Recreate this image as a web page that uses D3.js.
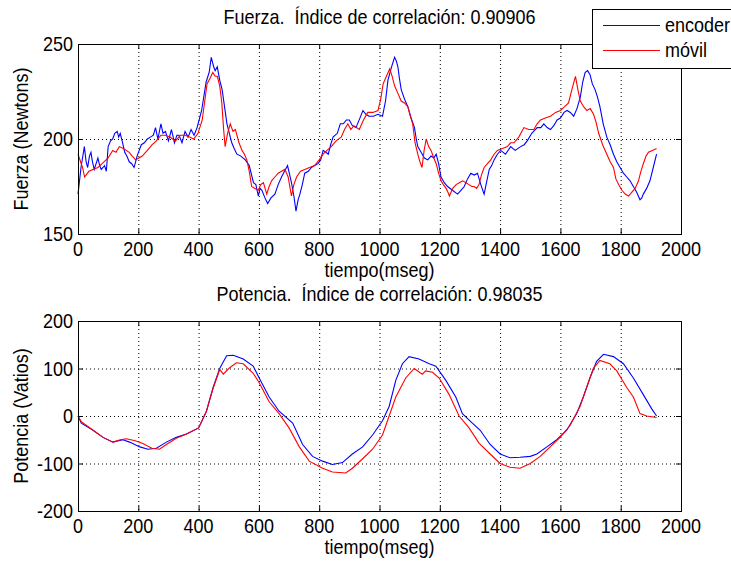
<!DOCTYPE html>
<html lang="es">
<head>
<meta charset="UTF-8">
<title>Fuerza y Potencia</title>
<script src="https://cdn.jsdelivr.net/npm/d3@7"></script>
<style>
  body { margin: 0; background: #fff; }
  text { font-family: "Liberation Sans", Arial, sans-serif; fill: #000; white-space: pre; }
</style>
</head>
<body>
<script>
// fuerza (N) - encoder
var tFuerzaEnc = [0,10,21,27,32,38,43,48,54,60,66,72,77,83,88,94,100,108,115,122,130,135,140,148,155,162,170,178,186,191,196,203,210,220,230,240,250,257,265,275,282,290,300,310,320,328,335,345,355,365,375,385,395,410,425,435,442,450,455,462,470,478,486,494,502,510,518,527,540,555,568,582,590,598,604,610,620,629,640,653,664,675,685,695,708,716,723,730,736,744,752,764,774,785,796,805,813,822,830,838,846,860,870,880,890,900,910,922,935,945,955,965,980,995,1010,1020,1028,1040,1050,1056,1061,1066,1072,1083,1094,1105,1116,1122,1127,1138,1149,1160,1171,1180,1188,1196,1204,1215,1226,1242,1259,1270,1281,1292,1303,1314,1325,1336,1347,1356,1364,1372,1380,1391,1402,1418,1435,1450,1468,1480,1490,1505,1523,1535,1545,1556,1567,1578,1589,1600,1612,1622,1633,1644,1655,1666,1674,1682,1690,1698,1706,1715,1723,1731,1742,1754,1765,1776,1787,1798,1809,1820,1831,1842,1853,1864,1870,1875,1886,1897,1908,1919];
var fuerzaEnc = [171,185,196,188,185,191,193,188,184,187,190,186,184,185,186,183,196,199,200,203,204,201,203,198,193,191,188,187,185,188,191,194,197,198,200,201,202,206,200,208,203,204,199,205,198,202,202,198,204,201,205,202,206,215,230,235,243,238,236,238,231,226,217,208,203,198,195,192,191,189,186,177,176,170,174,173,169,166,169,171,176,180,183,186,177,170,162,168,171,176,182,183,185,186,187,189,194,193,192,197,201,203,208,208,210,210,207,206,211,215,213,212,212,213,212,220,231,238,243,241,238,232,226,221,217,211,206,200,196,193,190,189,191,190,192,187,180,177,175,173,171,173,175,179,182,181,182,176,171,178,184,186,189,192,194,192,196,194,196,197,199,203,206,206,208,206,205,207,210,211,214,215,214,212,216,222,230,235,236,234,229,226,222,217,208,201,197,192,188,185,182,180,178,175,172,168,169,171,174,178,185,192];
// fuerza (N) - movil
var tFuerzaMov = [0,15,22,36,50,66,80,100,115,126,137,150,170,180,191,202,213,230,246,260,275,290,305,323,340,356,370,384,398,412,428,438,447,455,462,470,477,483,488,496,505,514,522,534,544,552,560,568,576,587,598,606,615,626,634,642,653,664,675,686,697,708,716,725,738,752,768,785,800,813,826,840,856,873,884,895,905,915,933,947,961,978,995,1004,1012,1023,1034,1042,1050,1061,1072,1083,1094,1102,1110,1118,1127,1134,1141,1148,1155,1163,1171,1180,1188,1196,1204,1212,1221,1227,1232,1243,1254,1265,1276,1287,1297,1306,1314,1322,1330,1338,1347,1358,1369,1380,1391,1408,1424,1435,1446,1462,1479,1495,1512,1523,1534,1550,1567,1584,1600,1614,1627,1638,1650,1658,1666,1677,1688,1699,1710,1718,1727,1740,1754,1765,1776,1784,1793,1804,1815,1826,1837,1848,1859,1867,1875,1884,1892,1905,1919];
var fuerzaMov = [192,185,180,183,184,185,187,190,194,193,196,195,193,191,189,190,191,194,197,199,202,202,201,199,202,202,201,200,203,210,229,232,235,233,233,228,219,205,196,203,208,204,205,198,194,192,189,183,175,174,173,176,177,171,175,178,180,182,183,184,180,170,176,180,183,184,185,186,189,192,194,196,199,201,205,208,205,207,205,210,214,214,215,221,229,233,237,233,228,224,220,219,217,212,208,198,192,188,185,194,200,196,194,190,187,182,178,176,174,172,170,174,176,177,178,177,176,175,175,174,176,181,185,187,189,192,194,195,196,198,198,201,206,205,205,208,210,211,212,214,215,217,219,226,233,226,220,217,215,216,213,209,203,197,192,188,185,179,176,173,171,170,172,174,178,183,187,191,193,194,195];

// potencia (W) - encoder
var tPotEnc = [0,11,50,83,116,149,171,205,232,260,293,326,360,400,426,448,470,493,515,548,581,601,634,667,712,745,778,811,844,877,910,944,977,1010,1032,1054,1076,1098,1131,1165,1187,1220,1253,1275,1308,1334,1367,1400,1433,1466,1500,1522,1555,1588,1621,1654,1676,1698,1720,1743,1776,1809,1842,1875,1903,1919];
var potEnc = [0,-15,-30,-45,-55,-50,-55,-65,-70,-68,-55,-45,-38,-25,10,60,100,127,128,120,105,80,40,10,-15,-60,-85,-95,-102,-98,-80,-65,-40,-10,20,75,110,125,120,110,105,75,40,5,-15,-30,-60,-80,-88,-87,-85,-80,-65,-50,-30,5,40,80,115,130,125,110,80,45,15,0];
// potencia (W) - movil
var tPotMov = [0,11,50,83,116,140,160,190,215,245,270,293,326,360,400,426,448,470,482,500,525,548,581,601,634,667,700,734,767,811,844,888,910,944,977,1010,1032,1054,1087,1115,1142,1153,1176,1198,1231,1264,1297,1330,1367,1400,1433,1466,1500,1533,1566,1599,1632,1665,1687,1709,1731,1764,1787,1820,1842,1864,1886,1919];
var potMov = [0,-12,-30,-45,-55,-50,-48,-52,-58,-68,-70,-60,-47,-38,-25,10,58,98,88,100,112,110,90,70,30,5,-25,-65,-95,-110,-118,-120,-110,-90,-70,-40,0,40,80,100,88,95,92,80,45,0,-25,-57,-80,-100,-108,-110,-100,-85,-65,-45,-20,20,60,100,117,110,95,60,40,5,0,-3];

var xTicks = [0,200,400,600,800,1000,1200,1400,1600,1800,2000];
var yTicksFuerza = [150,200,250];
var yTicksPot = [-200,-100,0,100,200];

var W = 731, H = 562;
var left = 78, right = 681;
var fs = 20, sx = 0.9;

var svg = d3.select("body").append("svg")
    .attr("width", W)
    .attr("height", H);

var x = d3.scaleLinear().domain([0,2000]).range([left,right]);

// texto estrecho (como la fuente de matlab)
function txt(g, px, py, s, anchor, rot) {
    return g.append("text")
        .attr("transform", "translate(" + px + "," + py + ")" + (rot ? " rotate(-90)" : "") + " scale(" + sx + ",1)")
        .attr("text-anchor", anchor || "start")
        .attr("font-size", fs)
        .text(s);
}

function panel(top, bottom, yDomain, yTicks, title, ylabel, series) {
    var y = d3.scaleLinear().domain(yDomain).range([bottom, top]);
    var g = svg.append("g");

    // grid
    g.selectAll(".gx").data(xTicks.slice(1,-1)).enter().append("line")
        .attr("x1", d => x(d) + 0.5).attr("x2", d => x(d) + 0.5)
        .attr("y1", top).attr("y2", bottom)
        .attr("stroke", "#000").attr("stroke-dasharray", "1,3");
    g.selectAll(".gy").data(yTicks.slice(1,-1)).enter().append("line")
        .attr("x1", left).attr("x2", right)
        .attr("y1", d => y(d) + 0.5).attr("y2", d => y(d) + 0.5)
        .attr("stroke", "#000").attr("stroke-dasharray", "1,3");

    // lines
    var line = d3.line().x(d => x(d[0])).y(d => y(d[1]));
    series.forEach(function(s) {
        g.append("path")
            .datum(d3.zip(s.t, s.v))
            .attr("d", line)
            .attr("fill", "none")
            .attr("stroke", s.color)
            .attr("stroke-width", 1.1);
    });

    // box + inner ticks
    g.append("rect").attr("x", left + 0.5).attr("y", top + 0.5)
        .attr("width", right - left).attr("height", bottom - top)
        .attr("fill", "none").attr("stroke", "#000");
    var tl = 5;
    g.selectAll(".tb").data(xTicks).enter().append("line")
        .attr("x1", d => x(d) + 0.5).attr("x2", d => x(d) + 0.5)
        .attr("y1", bottom).attr("y2", bottom - tl).attr("stroke", "#000");
    g.selectAll(".tt").data(xTicks).enter().append("line")
        .attr("x1", d => x(d) + 0.5).attr("x2", d => x(d) + 0.5)
        .attr("y1", top).attr("y2", top + tl).attr("stroke", "#000");
    g.selectAll(".tl").data(yTicks).enter().append("line")
        .attr("x1", left).attr("x2", left + tl)
        .attr("y1", d => y(d) + 0.5).attr("y2", d => y(d) + 0.5).attr("stroke", "#000");
    g.selectAll(".tr").data(yTicks).enter().append("line")
        .attr("x1", right).attr("x2", right - tl)
        .attr("y1", d => y(d) + 0.5).attr("y2", d => y(d) + 0.5).attr("stroke", "#000");

    // tick labels
    xTicks.forEach(d => txt(g, x(d), bottom + 22, d, "middle"));
    yTicks.forEach(d => txt(g, left - 5, y(d) + 7, d, "end"));

    // titles
    txt(g, (left + right) / 2, top - 20, title, "middle");
    txt(g, (left + right) / 2, bottom + 43, "tiempo(mseg)", "middle");
    txt(g, 28, (top + bottom) / 2, ylabel, "middle", true);
}

panel(44, 234, [150,250], yTicksFuerza,
    "Fuerza.  Índice de correlación: 0.90906", "Fuerza (Newtons)",
    [{t: tFuerzaEnc, v: fuerzaEnc, color: "#0000ff"},
     {t: tFuerzaMov, v: fuerzaMov, color: "#ff0000"}]);

panel(321, 511, [-200,200], yTicksPot,
    "Potencia.  Índice de correlación: 0.98035", "Potencia (Vatios)",
    [{t: tPotEnc, v: potEnc, color: "#0000ff"},
     {t: tPotMov, v: potMov, color: "#ff0000"}]);

// leyenda
var leg = svg.append("g");
leg.append("rect").attr("x", 592.5).attr("y", 9.5).attr("width", 160).attr("height", 59)
    .attr("fill", "#fff").attr("stroke", "#000");
var legItems = [{name: "encoder", color: "#0000ff"}, {name: "móvil", color: "#ff0000"}];
leg.selectAll(".li").data(legItems).enter().append("line")
    .attr("x1", 603).attr("x2", 660)
    .attr("y1", (d, i) => 25.5 + i * 25).attr("y2", (d, i) => 25.5 + i * 25)
    .attr("stroke", d => d.color).attr("stroke-width", 1.1);
legItems.forEach((d, i) => txt(leg, 665, 32 + i * 25, d.name, "start"));
</script>
</body>
</html>
